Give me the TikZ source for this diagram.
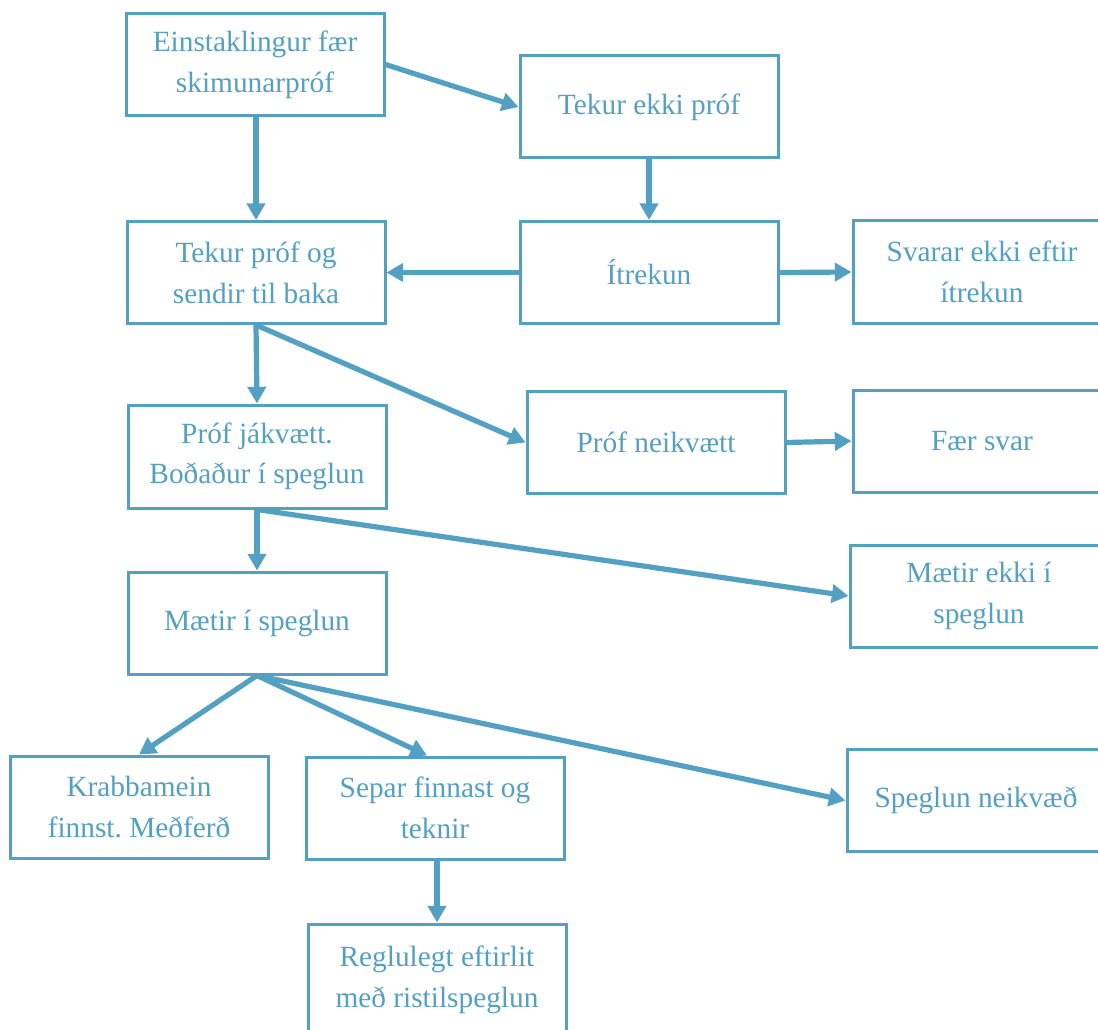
\documentclass[tikz,border=0pt]{standalone}
\usepackage{fontspec}
\setmainfont{Liberation Serif}
\usetikzlibrary{arrows.meta}
\definecolor{flow}{RGB}{84,160,194}
\tikzset{
  box/.style={draw=flow, line width=2.25pt, fill=white, text=flow,
    minimum width=193.5pt, minimum height=76.5pt, inner sep=0pt,
    align=center, font=\fontsize{22}{30.5}\selectfont\frenchspacing},
  conn/.style={draw=flow, line width=3.9pt,
    -{Triangle[length=12.5pt,width=13.5pt]}}
}
\begin{document}
\begin{tikzpicture}[x=0.75pt,y=-0.75pt]
\useasboundingbox (0,0) rectangle (1098,1030);
\clip (0,0) rectangle (1098,1030);
\fill[white] (0,0) rectangle (1098,1030);
\node[box] (n1) at (255,64.5) {Einstaklingur fær\\skimunarpróf};
\node[box] (n2) at (649,107) {Tekur ekki próf};
\node[box] (n3) at (256,272.5) {Tekur próf og\\sendir til baka};
\node[box] (n4) at (649,272.5) {Ítrekun};
\node[box] (n5) at (982,272) {Svarar ekki eftir\\ítrekun};
\node[box, minimum height=77.25pt] (n6) at (257,456.5) {Próf jákvætt.\\Boðaður í speglun};
\node[box] (n7) at (656,442.5) {Próf neikvætt};
\node[box] (n8) at (982,441) {Fær svar};
\node[box] (n9) at (257,623) {Mætir í speglun};
\node[box] (n10) at (979,596) {Mætir ekki í\\speglun};
\node[box] (n11) at (139,807) {Krabbamein\\finnst. Meðferð};
\node[box] (n12) at (435,808) {Separ finnast og\\teknir};
\node[box] (n13) at (976,800.5) {Speglun neikvæð};
\node[box, minimum height=84pt] (n14) at (437,980) {Reglulegt eftirlit\\með ristilspeglun};
\draw[conn] (n1.south -| n3.north) -- (n3.north);
\draw[conn] (n1.east) -- (n2.west);
\draw[conn] (n2.south) -- (n4.north);
\draw[conn] (n4.west) -- (n3.east);
\draw[conn] (n4.east) -- (n5.west);
\draw[conn] (n3.south) -- (n6.north);
\draw[conn] (n3.south) -- (n7.west);
\draw[conn] (n7.east) -- (n8.west);
\draw[conn] (n6.south) -- (n9.north);
\draw[conn] (n6.south) -- (n10.west);
\draw[conn] (n9.south) -- (n11.north);
\draw[conn] (n9.south) -- ([xshift=-6pt]n12.north);
\draw[conn] (n9.south) -- (n13.west);
\draw[conn] (n12.south -| n14.north) -- (n14.north);
\end{tikzpicture}
\end{document}
